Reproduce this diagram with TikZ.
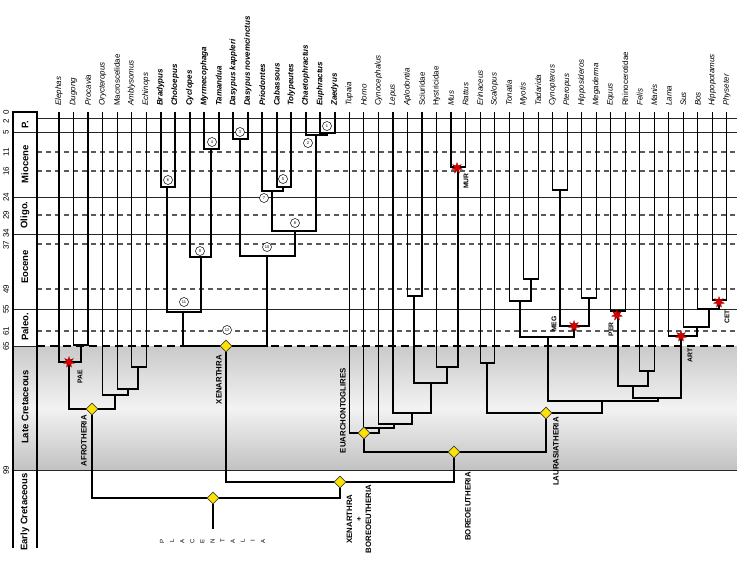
\documentclass[tikz,border=0pt]{standalone}
\usepackage{fontspec}
\setmainfont{Liberation Sans}
\usetikzlibrary{shapes.geometric}
\begin{document}
\begin{tikzpicture}[x=1pt,y=-1pt,
  br/.style={line width=1.1pt, line join=miter},
  xb/.style={line width=2pt, line join=miter},
  sol/.style={line width=0.9pt, black!85},
  dl/.style={line width=1.1pt, black!65, dash pattern=on 5pt off 4pt},
  kdl/.style={line width=2.2pt, black, dash pattern=on 8pt off 5pt},
  ti/.style={rotate=90, anchor=west, inner sep=1pt, font=\fontsize{8}{9}\selectfont\itshape},
  tb/.style={rotate=90, anchor=west, inner sep=1pt, font=\fontsize{8}{9}\selectfont\bfseries\itshape},
  tu/.style={rotate=90, anchor=west, inner sep=1pt, font=\fontsize{8}{9}\selectfont},
  cl/.style={rotate=90, anchor=east, inner sep=0pt, font=\fontsize{7.8}{9}\selectfont\bfseries},
  sl/.style={rotate=90, anchor=east, inner sep=0pt, font=\fontsize{6.8}{8}\selectfont\bfseries},
  era/.style={rotate=90, inner sep=0pt, font=\fontsize{9.5}{10}\selectfont\bfseries},
  num/.style={rotate=90, inner sep=0pt, font=\fontsize{8}{9}\selectfont},
  dm/.style={diamond, draw=black!75, fill=yellow!85!orange, minimum size=12pt, inner sep=0pt, line width=0.6pt},
  st/.style={star, star points=7, star point ratio=2.2, fill=red!85!black, draw=red!55!black, line width=0.3pt, minimum size=11pt, inner sep=0pt},
  cn/.style={circle, draw, fill=white, minimum size=9pt, inner sep=0pt, line width=0.5pt, font=\fontsize{4}{4}\selectfont}
]
\useasboundingbox (0,0) rectangle (737,563);
% shading of the Late Cretaceous
\shade[top color=gray!42, bottom color=gray!48, middle color=gray!10] (13,346) rectangle (737,470);
% time lines
\draw[sol] (37,118) -- (737,118);
\foreach \yy in {132,197,234,309} \draw[sol] (13,\yy) -- (737,\yy);
\draw[sol] (13,470) -- (737,470);
\draw[sol] (13,346) -- (37,346);
\foreach \yy in {152,171,215,244,289,331} \draw[dl] (37,\yy) -- (737,\yy);
\draw[kdl] (37,346) -- (737,346);
% left box
\draw[line width=2pt] (13,548) -- (13,112) -- (37,112) -- (37,548);
% numbers
\node[num] (n0) at (6,112) {0};
\node[num] (n2) at (6,121) {2};
\foreach \v/\yy in {5/132,11/152,16/171,24/197,29/215,34/233,37/245,49/289,55/309,61/331,65/346,99/470}
  \node[num] (n\v) at (6,\yy) {\v};
% eras
\node[era] (eP) at (25,125) {P.};
\node[era] (eM) at (25,164) {Miocene};
\node[era] (eO) at (25,215) {Oligo.};
\node[era] (eE) at (25,267) {Eocene};
\node[era] (ePa) at (25,327) {Paleo.};
\node[era] (eL) at (25,407) {Late Cretaceous};
\node[era] (eEC) at (25,512) {Early Cretaceous};
% taxa
\foreach \lab/\f [count=\i from 0] in {Elephas/ti,Dugong/ti,Procavia/ti,Orycteropus/ti,Macroscelidae/tu,Amblysomus/ti,Echinops/ti,Bradypus/tb,Choloepus/tb,Cyclopes/tb,Myrmecophaga/tb,Tamandua/tb,Dasypus kappleri/tb,Dasypus novemcinctus/tb,Priodontes/tb,Cabassous/tb,Tolypeutes/tb,Chaetophractus/tb,Euphractus/tb,Zaedyus/tb,Tupaia/ti,Homo/ti,Cynocephalus/ti,Lepus/ti,Aplodontia/ti,Sciuridae/tu,Hystricidae/tu,Mus/ti,Rattus/ti,Erinaceus/ti,Scalopus/ti,Tonatia/ti,Myotis/ti,Tadarida/ti,Cynopterus/ti,Pteropus/ti,Hipposideros/ti,Megaderma/ti,Equus/ti,Rhinocerotidae/tu,Felis/ti,Manis/ti,Lama/ti,Sus/ti,Bos/ti,Hippopotamus/ti,Physeter/ti}{
  \coordinate (t\i) at ({59+14.52*\i},112);
  \node[\f] (l\i) at ({59+14.52*\i},107) {\lab};
}
% ---- Afrotheria
\coordinate (dp) at (81,345);
\coordinate (paen) at (69,362);
\coordinate (ae) at (138,367);
\coordinate (mae) at (128,389);
\coordinate (oae) at (115,395);
\coordinate (afr) at (92,409);
\draw[br] (t1) |- (dp) -| (t2);
\draw[br] (t0) |- (paen) -| (dp);
\draw[br] (t5) |- (ae) -| (t6);
\draw[br] (t4) |- (mae) -| (ae);
\draw[br] (t3) |- (oae) -| (mae);
\draw[br] (paen) |- (afr) -| (oae);
% ---- Xenarthra
\coordinate (bc) at (167,187);
\coordinate (mt) at (211,149);
\coordinate (cmt) at (201,257);
\coordinate (pil) at (183,312);
\coordinate (dd) at (240,139);
\coordinate (ct) at (283,187);
\coordinate (pct) at (272,191);
\coordinate (ez) at (327,133);
\coordinate (cez) at (316,135);
\coordinate (tol) at (295,231);
\coordinate (das) at (267,256);
\coordinate (xen) at (226,346);
\draw[xb] (t7) |- (bc) -| (t8);
\draw[xb] (t10) |- (mt) -| (t11);
\draw[xb] (t9) |- (cmt) -| (mt);
\draw[xb] (bc) |- (pil) -| (cmt);
\draw[xb] (t12) |- (dd) -| (t13);
\draw[xb] (t15) |- (ct) -| (t16);
\draw[xb] (t14) |- (pct) -| (ct);
\draw[xb] (t18) |- (ez) -| (t19);
\draw[xb] (t17) |- (cez) -| (ez);
\draw[xb] (pct) |- (tol) -| (cez);
\draw[xb] (dd) |- (das) -| (tol);
\draw[xb] (pil) |- (xen) -| (das);
% ---- Euarchontoglires
\coordinate (mr) at (458,167);
\coordinate (hmr) at (447,367);
\coordinate (as) at (414,296);
\coordinate (rod) at (431,383);
\coordinate (gl) at (412,413);
\coordinate (cg) at (394,424);
\coordinate (hcg) at (379,428);
\coordinate (euar) at (364,433);
\draw[br] (t27) |- (mr) -| (t28);
\draw[br] (t26) |- (hmr) -| (mr);
\draw[br] (t24) |- (as) -| (t25);
\draw[br] (as) |- (rod) -| (hmr);
\draw[br] (t23) |- (gl) -| (rod);
\draw[br] (t22) |- (cg) -| (gl);
\draw[br] (t21) |- (hcg) -| (cg);
\draw[br] (t20) |- (euar) -| (hcg);
% ---- Laurasiatheria
\coordinate (es) at (487,363);
\coordinate (mt2) at (531,279);
\coordinate (tmt) at (520,301);
\coordinate (cp) at (560,190);
\coordinate (hm) at (589,298);
\coordinate (meg) at (574,326);
\coordinate (chir) at (548,337);
\coordinate (per) at (618,311);
\coordinate (fm) at (648,371);
\coordinate (fp) at (633,386);
\coordinate (hp) at (719,300);
\coordinate (bhp) at (709,309);
\coordinate (sbhp) at (697,327);
\coordinate (art) at (681,336);
\coordinate (fer) at (658,398);
\coordinate (sc) at (602,401);
\coordinate (laur) at (546,413);
\draw[br] (t29) |- (es) -| (t30);
\draw[br] (t32) |- (mt2) -| (t33);
\draw[br] (t31) |- (tmt) -| (mt2);
\draw[br] (t34) |- (cp) -| (t35);
\draw[br] (t36) |- (hm) -| (t37);
\draw[br] (cp) |- (meg) -| (hm);
\draw[br] (tmt) |- (chir) -| (meg);
\draw[br] (t38) |- (per) -| (t39);
\draw[br] (t40) |- (fm) -| (t41);
\draw[br] (per) |- (fp) -| (fm);
\draw[br] (t45) |- (hp) -| (t46);
\draw[br] (t44) |- (bhp) -| (hp);
\draw[br] (t43) |- (sbhp) -| (bhp);
\draw[br] (t42) |- (art) -| (sbhp);
\draw[br] (fp) |- (fer) -| (art);
\draw[br] (chir) |- (sc) -| (fer);
\draw[br] (es) |- (laur) -| (sc);
% ---- deep nodes
\coordinate (bor) at (454,452);
\coordinate (xbn) at (340,482);
\coordinate (pl) at (213,498);
\coordinate (plb) at (213,529);
\draw[br] (euar) |- (bor) -| (laur);
\draw[br] (xen) |- (xbn) -| (bor);
\draw[br] (afr) |- (pl) -| (xbn);
\draw[br] (pl) -- (plb);
% circles
\node[cn] (c6) at (168,180) {6};
\node[cn] (c4) at (212,142) {4};
\node[cn] (c9) at (200,251) {9};
\node[cn] (c11) at (184,302) {11};
\node[cn] (c3) at (240,132) {3};
\node[cn] (c5) at (283,179) {5};
\node[cn] (c7) at (264,198) {7};
\node[cn] (c1) at (327,126) {1};
\node[cn] (c2) at (308,143) {2};
\node[cn] (c8) at (295,223) {8};
\node[cn] (c10) at (267,247) {10};
\node[cn] (c12) at (227,330) {12};
% diamonds
\foreach \d in {afr,pl,xen,xbn,euar,bor,laur} \node[dm] (d\d) at (\d) {};
% stars
\node[st] (s1) at (69,362) {};
\node[st] (s2) at (457,168) {};
\node[st] (s3) at (574,326) {};
\node[st] (s4) at (617,315) {};
\node[st] (s5) at (719,302) {};
\node[st] (s6) at (681,336) {};
% clade labels
\node[sl] (lPAE) at (80,370) {PAE};
\node[sl] (lMUR) at (466,173) {MUR};
\node[sl] (lMEG) at (554,316) {MEG};
\node[sl] (lPER) at (611,322) {PER};
\node[sl] (lART) at (690,348) {ART};
\node[sl] (lCET) at (727,310) {CET};
\node[cl] (lAF) at (84,415) {AFROTHERIA};
\node[cl] (lXE) at (219,355) {XENARTHRA};
\node[cl] (lEU) at (343,368) {EUARCHONTOGLIRES};
\node[cl] (lLA) at (556,417) {LAURASIATHERIA};
\node[cl] (lBO) at (468,472) {BOREOEUTHERIA};
\node[rotate=90, align=center, inner sep=0pt, font=\fontsize{7.8}{9.5}\selectfont\bfseries] (lXB) at (359,519) {XENARTHRA\\+\\BOREOEUTHERIA};
% Placentalia
\foreach \c [count=\k from 0] in {P,L,A,C,E,N,T,A,L,I,A}
  \node[rotate=90, inner sep=0pt, font=\fontsize{6}{6}\selectfont] (plc\k) at ({162+10.1*\k},541) {\c};
\end{tikzpicture}
\end{document}
